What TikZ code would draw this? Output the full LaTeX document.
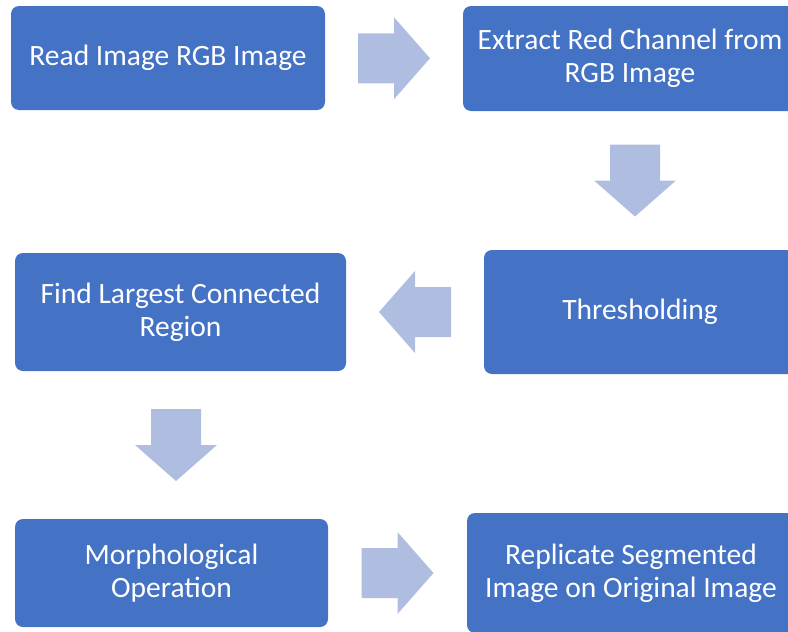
\documentclass[tikz,border=0pt]{standalone}
\usepackage{fontspec}
\setmainfont{Carlito}
\usepackage{tikz}
\usetikzlibrary{positioning,calc}
\definecolor{boxblue}{HTML}{4472C4}
\definecolor{arrblue}{HTML}{AFBEE0}

\begin{document}
\begin{tikzpicture}[x=1pt,y=-1pt,
  font=\fontsize{29.5}{33}\selectfont,
  stage/.style={fill=boxblue,rounded corners=8pt,text=white,align=center,inner sep=0pt},
  blk/.pic={\fill[arrblue] (-36,-25) -- (0,-25) -- (0,-41) -- (36,0) -- (0,41) -- (0,25) -- (-36,25) -- cycle;}]
\useasboundingbox (0,0) rectangle (788,632);
\clip (0,0) rectangle (788,632);
\node[stage,minimum width=314pt,minimum height=104pt] (read) at (168,58) {Read Image RGB Image};
\node[stage,minimum width=334pt,minimum height=105pt] (extract) at (630,58.5) {Extract Red Channel from\\RGB Image};
\node[stage,minimum width=312pt,minimum height=124pt] (thr) at (640,312) {Thresholding};
\node[stage,minimum width=331pt,minimum height=118pt] (find) at (180.5,312) {Find Largest Connected\\Region};
\node[stage,minimum width=313pt,minimum height=108pt] (morph) at (171.5,573) {Morphological\\Operation};
\node[stage,minimum width=328pt,minimum height=120pt] (repl) at (631,573) {Replicate Segmented\\Image on Original Image};
% block arrows halfway between the boxes
\pic at ($(read.east)!0.5!(extract.west)$) {blk};
\pic[rotate=-90] at ($(extract.south)!0.5!(thr.north)$) {blk};
\pic[rotate=180] at ($(thr.west)!0.5!(find.east)$) {blk};
\pic[rotate=-90] at ($(find.south)!0.5!(morph.north)$) {blk};
\pic at ($(morph.east)!0.5!(repl.west)$) {blk};
\end{tikzpicture}
\end{document}
